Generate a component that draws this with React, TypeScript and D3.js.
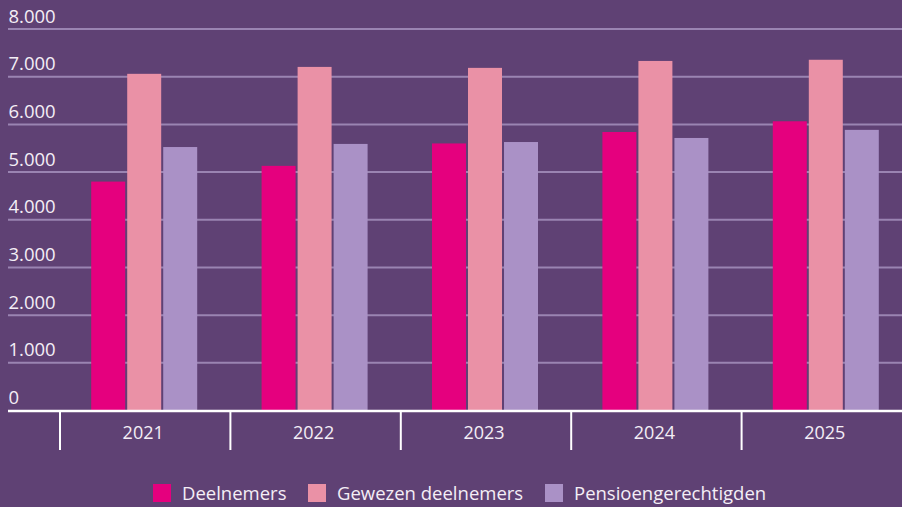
import React from "react";
import * as d3 from "d3";

const years = ["2021", "2022", "2023", "2024", "2025"];
const seriesNames = ["Deelnemers", "Gewezen deelnemers", "Pensioengerechtigden"];
const deelnemers = [4800, 5130, 5600, 5840, 6065];
const gewezen = [7060, 7205, 7185, 7330, 7355];
const pensioen = [5525, 5590, 5630, 5715, 5885];
const yTicks = [0, 1000, 2000, 3000, 4000, 5000, 6000, 7000, 8000];
const colors = ["#E5007E", "#EA91A6", "#AA91C6"];

const W = 902;
const H = 507;
const BG = "#5F4174";
const FONT = "'Open Sans', 'Noto Sans', sans-serif";
const TXT = "#F4EEF6";

export default function App() {
  const series = [deelnemers, gewezen, pensioen];
  const x = d3.scaleBand<string>().domain(years).range([60, 60 + 5 * 170.4]).padding(0);
  const inner = d3
    .scaleBand<number>()
    .domain([0, 1, 2])
    .range([0, 106])
    .paddingInner(0.056)
    .paddingOuter(0);
  const y = d3.scaleLinear().domain([0, 8000]).range([410.5, 29]);
  const fmt = (v: number) => d3.format(",")(v).replace(/,/g, ".");
  const groupOffset = (x.bandwidth() - 106) / 2 - 1;

  const legendX = [153, 308, 545];

  return (
    <svg width={W} height={H} style={{ position: "absolute", left: 0, top: 0, display: "block" }}>
      <rect x={0} y={0} width={W} height={H} fill={BG} />
      {yTicks.map((t) => (
        <g key={t}>
          {t > 0 && (
            <line x1={8} x2={W} y1={y(t)} y2={y(t)} stroke="#9A84B2" strokeWidth={2} />
          )}
          <text x={8.5} y={y(t) - 6.5} fill={TXT} fontFamily={FONT} fontSize={18.5}>
            {fmt(t)}
          </text>
        </g>
      ))}
      {years.map((yr, i) => (
        <g key={yr} transform={`translate(${(x(yr) as number) + groupOffset},0)`}>
          {series.map((s, j) => (
            <rect
              key={j}
              x={inner(j)}
              y={y(s[i])}
              width={inner.bandwidth()}
              height={y(0) - y(s[i])}
              fill={colors[j]}
            />
          ))}
        </g>
      ))}
      <line x1={8} x2={W} y1={411} y2={411} stroke="#FFFFFF" strokeWidth={2.5} />
      {years.map((yr) => (
        <g key={"t" + yr}>
          <line
            x1={x(yr) as number}
            x2={x(yr) as number}
            y1={411}
            y2={450}
            stroke="#FFFFFF"
            strokeWidth={2}
          />
          <text
            x={(x(yr) as number) + x.bandwidth() / 2 - 2}
            y={438.5}
            textAnchor="middle"
            fill={TXT}
            fontFamily={FONT}
            fontSize={18}
          >
            {yr}
          </text>
        </g>
      ))}
      {seriesNames.map((n, j) => (
        <g key={n}>
          <rect x={legendX[j]} y={484} width={18} height={18} fill={colors[j]} />
          <text x={legendX[j] + 29} y={499.5} fill={TXT} fontFamily={FONT} fontSize={18.5}>
            {n}
          </text>
        </g>
      ))}
    </svg>
  );
}
